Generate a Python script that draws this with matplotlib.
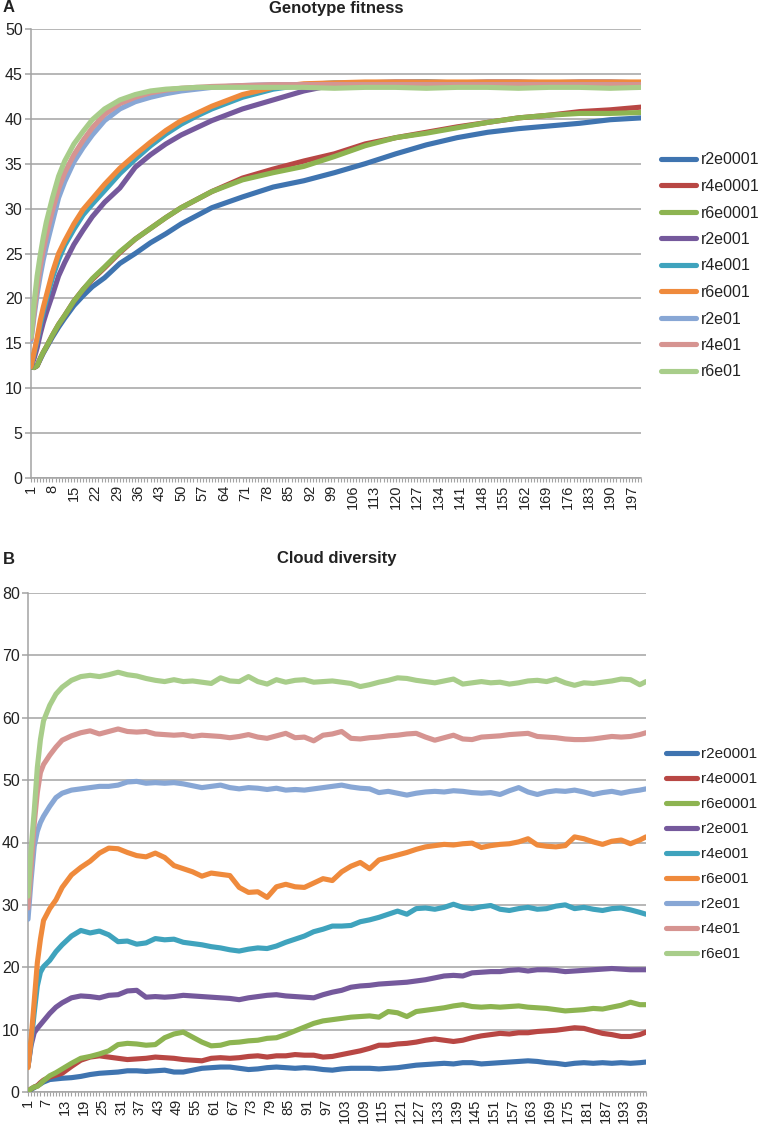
import matplotlib
matplotlib.use("Agg")
import matplotlib.pyplot as plt
from matplotlib.ticker import MultipleLocator, FixedLocator
from matplotlib.lines import Line2D

plt.rcParams['font.family'] = ['Liberation Sans', 'DejaVu Sans']

series_names = ["r2e0001", "r4e0001", "r6e0001", "r2e001", "r4e001",
                "r6e001", "r2e01", "r4e01", "r6e01"]
series_colors = ["#3F74B0", "#B84744", "#8DB451", "#75599C", "#3FA3BD",
                 "#EF8A3C", "#88A7D5", "#D69491", "#A8CD8A"]

# ---------------- Panel A: genotype fitness ----------------
gen_a = [1, 2, 3, 4, 5, 6, 8, 10, 12, 15, 18, 21, 25, 30, 35, 40, 45, 50, 55, 60,
         70, 80, 90, 100, 110, 120, 130, 140, 150, 160, 170, 180, 190, 200]

fit_r2e0001 = [12.4, 12.3, 12.5, 13.2, 13.9, 14.5, 15.7, 16.8, 17.8, 19.2, 20.3, 21.3, 22.3, 23.9, 25.0, 26.2, 27.2,
               28.3, 29.2, 30.1, 31.3, 32.4, 33.1, 34.0, 35.0, 36.1, 37.1, 37.9, 38.5, 38.9, 39.2, 39.5, 39.9, 40.1]
fit_r4e0001 = [12.4, 12.3, 12.5, 13.3, 14.0, 14.6, 15.9, 17.1, 18.1, 19.7, 21.0, 22.1, 23.4, 25.1, 26.6, 27.8, 29.0,
               30.1, 31.0, 31.9, 33.4, 34.4, 35.3, 36.1, 37.2, 37.9, 38.5, 39.1, 39.6, 40.1, 40.4, 40.8, 41.0, 41.3]
fit_r6e0001 = [12.4, 12.3, 12.5, 13.3, 14.0, 14.6, 15.9, 17.1, 18.1, 19.7, 21.0, 22.2, 23.5, 25.2, 26.6, 27.8, 29.0,
               30.1, 31.0, 31.9, 33.2, 34.0, 34.7, 35.8, 37.0, 37.9, 38.4, 39.0, 39.6, 40.1, 40.4, 40.6, 40.6, 40.7]
fit_r2e001 = [12.4, 13.3, 14.5, 16.0, 17.3, 18.4, 20.4, 22.5, 24.0, 26.0, 27.6, 29.1, 30.7, 32.3, 34.6, 36.0, 37.2,
              38.2, 39.0, 39.8, 41.1, 42.1, 43.1, 43.8, 44.0, 44.1, 44.1, 44.0, 44.1, 44.1, 44.0, 44.1, 44.1, 44.0]
fit_r4e001 = [12.4, 13.8, 15.3, 17.0, 18.5, 19.8, 22.3, 24.3, 25.9, 27.7, 29.3, 30.5, 32.0, 33.9, 35.5, 37.0, 38.3,
              39.4, 40.3, 41.1, 42.4, 43.3, 43.8, 44.0, 44.0, 44.0, 44.1, 44.0, 44.0, 44.0, 44.0, 44.0, 44.0, 44.0]
fit_r6e001 = [12.4, 14.0, 15.6, 17.5, 19.0, 20.3, 22.9, 25.0, 26.4, 28.3, 29.9, 31.1, 32.7, 34.5, 36.0, 37.4, 38.7,
              39.8, 40.6, 41.4, 42.7, 43.5, 43.9, 44.0, 44.1, 44.1, 44.1, 44.1, 44.1, 44.1, 44.1, 44.1, 44.1, 44.1]
fit_r2e01 = [15.3, 18.0, 20.5, 22.5, 24.3, 25.8, 28.5, 31.2, 33.0, 35.2, 36.8, 38.2, 39.8, 41.1, 41.9, 42.4, 42.8,
             43.1, 43.3, 43.5, 43.7, 43.8, 43.8, 43.8, 43.8, 43.8, 43.8, 43.8, 43.8, 43.8, 43.8, 43.8, 43.8, 43.8]
fit_r4e01 = [15.5, 18.5, 21.3, 23.5, 25.4, 27.0, 29.8, 32.2, 34.0, 36.0, 37.6, 39.0, 40.5, 41.7, 42.4, 42.9, 43.2,
             43.4, 43.5, 43.6, 43.7, 43.8, 43.8, 43.8, 43.8, 43.8, 43.8, 43.8, 43.8, 43.8, 43.8, 43.8, 43.8, 43.8]
fit_r6e01 = [15.7, 19.5, 22.5, 24.8, 26.8, 28.5, 31.2, 33.6, 35.3, 37.2, 38.6, 39.9, 41.1, 42.1, 42.7, 43.1, 43.3,
             43.4, 43.5, 43.5, 43.5, 43.5, 43.5, 43.4, 43.5, 43.5, 43.4, 43.5, 43.5, 43.4, 43.5, 43.5, 43.4, 43.5]

# ---------------- Panel B: cloud diversity ----------------
gen_b = [1, 2, 3, 4, 5, 6, 8, 10, 12, 15, 18, 21, 24, 27, 30, 33, 36, 39, 42, 45, 48, 51, 54, 57, 60, 63, 66,
         69, 72, 75, 78, 81, 84, 87, 90, 93, 96, 99, 102, 105, 108, 111, 114, 117, 120, 123, 126, 129, 132,
         135, 138, 141, 144, 147, 150, 153, 156, 159, 162, 165, 168, 171, 174, 177, 180, 183, 186, 189, 192,
         195, 198, 200]

div_r2e0001 = [0.1, 0.4, 0.7, 1.0, 1.3, 1.6, 2.0, 2.1, 2.2, 2.3, 2.5, 2.8, 3.0, 3.1, 3.2, 3.4, 3.4, 3.3, 3.4, 3.5,
               3.2, 3.2, 3.5, 3.8, 3.9, 4.0, 4.0, 3.8, 3.6, 3.7, 3.9, 4.0, 3.9, 3.8, 3.9, 3.8, 3.6, 3.5, 3.7,
               3.8, 3.8, 3.8, 3.7, 3.8, 3.9, 4.1, 4.3, 4.4, 4.5, 4.6, 4.5, 4.7, 4.7, 4.5, 4.6, 4.7, 4.8, 4.9,
               5.0, 4.9, 4.7, 4.6, 4.4, 4.6, 4.7, 4.6, 4.7, 4.6, 4.7, 4.6, 4.7, 4.8]
div_r4e0001 = [0.1, 0.5, 0.8, 1.0, 1.5, 1.9, 2.4, 2.7, 3.0, 4.1, 5.1, 5.6, 5.8, 5.6, 5.4, 5.2, 5.3, 5.4, 5.6, 5.5,
               5.4, 5.2, 5.1, 5.0, 5.4, 5.5, 5.4, 5.5, 5.7, 5.8, 5.6, 5.8, 5.8, 6.0, 5.9, 5.9, 5.6, 5.7, 6.0,
               6.3, 6.6, 7.0, 7.5, 7.5, 7.7, 7.8, 8.0, 8.3, 8.5, 8.3, 8.1, 8.3, 8.7, 9.0, 9.2, 9.4, 9.3, 9.5,
               9.5, 9.7, 9.8, 9.9, 10.1, 10.3, 10.2, 9.8, 9.4, 9.2, 8.9, 8.9, 9.2, 9.6]
div_r6e0001 = [0.1, 0.5, 0.8, 0.9, 1.3, 1.8, 2.6, 3.1, 3.7, 4.6, 5.4, 5.7, 6.1, 6.6, 7.6, 7.8, 7.7, 7.5, 7.6, 8.7,
               9.3, 9.6, 8.8, 8.0, 7.4, 7.5, 7.9, 8.0, 8.2, 8.3, 8.6, 8.7, 9.2, 9.8, 10.4, 11.0, 11.4, 11.6,
               11.8, 12.0, 12.1, 12.2, 12.0, 12.9, 12.7, 12.1, 12.9, 13.1, 13.3, 13.5, 13.8, 14.0, 13.7, 13.6,
               13.7, 13.6, 13.7, 13.8, 13.6, 13.5, 13.4, 13.2, 13.0, 13.1, 13.2, 13.4, 13.3, 13.6, 13.9, 14.4,
               14.0, 14.0]
div_r2e001 = [4.1, 7.5, 9.5, 10.2, 10.8, 11.4, 12.6, 13.6, 14.3, 15.1, 15.4, 15.3, 15.1, 15.5, 15.6, 16.2, 16.3,
              15.2, 15.3, 15.2, 15.3, 15.5, 15.4, 15.3, 15.2, 15.1, 15.0, 14.8, 15.1, 15.3, 15.5, 15.6, 15.4,
              15.3, 15.2, 15.1, 15.6, 16.0, 16.3, 16.8, 17.0, 17.1, 17.3, 17.4, 17.5, 17.6, 17.8, 18.0, 18.3,
              18.6, 18.7, 18.6, 19.1, 19.2, 19.3, 19.3, 19.5, 19.6, 19.4, 19.6, 19.6, 19.5, 19.3, 19.4, 19.5,
              19.6, 19.7, 19.8, 19.7, 19.6, 19.6, 19.6]
div_r4e001 = [4.1, 8.0, 12.7, 17.0, 19.2, 20.1, 21.1, 22.5, 23.6, 25.0, 25.9, 25.5, 25.8, 25.2, 24.1, 24.2, 23.7,
              23.9, 24.6, 24.4, 24.5, 24.0, 23.8, 23.6, 23.3, 23.1, 22.8, 22.6, 22.9, 23.1, 23.0, 23.4, 24.0,
              24.5, 25.0, 25.7, 26.1, 26.6, 26.6, 26.7, 27.3, 27.6, 28.0, 28.5, 29.0, 28.5, 29.4, 29.5, 29.3,
              29.6, 30.1, 29.6, 29.4, 29.7, 29.9, 29.3, 29.1, 29.4, 29.6, 29.3, 29.4, 29.8, 30.0, 29.4, 29.6,
              29.3, 29.1, 29.4, 29.5, 29.2, 28.8, 28.5]
div_r6e001 = [3.9, 8.5, 14.5, 20.7, 24.5, 27.5, 29.4, 30.8, 32.8, 34.8, 36.0, 37.0, 38.3, 39.1, 39.0, 38.4, 37.9,
              37.7, 38.3, 37.6, 36.3, 35.8, 35.3, 34.6, 35.1, 34.9, 34.7, 32.8, 32.0, 32.1, 31.2, 32.9, 33.3,
              32.9, 32.8, 33.5, 34.2, 33.9, 35.3, 36.2, 36.8, 35.8, 37.2, 37.6, 38.0, 38.4, 38.9, 39.3, 39.5,
              39.7, 39.6, 39.8, 39.9, 39.2, 39.5, 39.7, 39.8, 40.1, 40.6, 39.6, 39.4, 39.3, 39.5, 40.9, 40.6,
              40.1, 39.7, 40.2, 40.4, 39.8, 40.4, 40.9]
div_r2e01 = [27.7, 34.0, 39.4, 41.8, 43.2, 44.2, 45.8, 47.2, 47.9, 48.4, 48.6, 48.8, 49.0, 49.0, 49.2, 49.7, 49.8,
             49.5, 49.6, 49.5, 49.6, 49.4, 49.1, 48.8, 49.0, 49.2, 48.8, 48.6, 48.8, 48.7, 48.5, 48.7, 48.4,
             48.5, 48.4, 48.6, 48.8, 49.0, 49.2, 48.9, 48.7, 48.6, 48.0, 48.2, 47.9, 47.6, 47.9, 48.1, 48.2,
             48.1, 48.3, 48.2, 48.0, 47.9, 48.0, 47.7, 48.3, 48.8, 48.1, 47.7, 48.1, 48.3, 48.2, 48.4, 48.1,
             47.7, 48.0, 48.2, 47.9, 48.2, 48.4, 48.6]
div_r4e01 = [29.5, 36.0, 43.0, 48.0, 51.2, 52.5, 54.0, 55.3, 56.4, 57.1, 57.6, 57.9, 57.4, 57.8, 58.2, 57.8, 57.7,
             57.8, 57.4, 57.3, 57.2, 57.3, 57.0, 57.2, 57.1, 57.0, 56.8, 57.0, 57.3, 56.9, 56.7, 57.1, 57.5,
             56.8, 56.9, 56.3, 57.2, 57.4, 57.8, 56.7, 56.6, 56.8, 56.9, 57.1, 57.2, 57.4, 57.5, 56.9, 56.4,
             56.8, 57.2, 56.6, 56.5, 56.9, 57.0, 57.1, 57.3, 57.4, 57.5, 57.0, 56.9, 56.8, 56.6, 56.5, 56.5,
             56.6, 56.8, 57.0, 56.9, 57.0, 57.3, 57.6]
div_r6e01 = [31.4, 39.0, 45.0, 52.0, 56.5, 59.5, 62.0, 63.8, 64.9, 66.0, 66.6, 66.8, 66.6, 66.9, 67.3, 66.9, 66.7,
             66.3, 66.0, 65.8, 66.1, 65.8, 65.9, 65.7, 65.5, 66.4, 65.9, 65.8, 66.6, 65.8, 65.4, 66.1, 65.7,
             66.0, 66.1, 65.7, 65.8, 65.9, 65.7, 65.5, 65.0, 65.3, 65.7, 66.0, 66.4, 66.3, 66.0, 65.8, 65.6,
             65.9, 66.2, 65.4, 65.6, 65.8, 65.6, 65.7, 65.4, 65.6, 65.9, 66.0, 65.8, 66.2, 65.6, 65.2, 65.6,
             65.5, 65.7, 65.9, 66.2, 66.1, 65.3, 65.8]

fit_values = [fit_r2e0001, fit_r4e0001, fit_r6e0001, fit_r2e001, fit_r4e001,
              fit_r6e001, fit_r2e01, fit_r4e01, fit_r6e01]
div_values = [div_r2e0001, div_r4e0001, div_r6e0001, div_r2e001, div_r4e001,
              div_r6e001, div_r2e01, div_r4e01, div_r6e01]

xticks_a = list(range(1, 201, 7))
xticks_b = list(range(1, 201, 6))

W, H = 761, 1127
fig = plt.figure(figsize=(W / 100, H / 100), dpi=100)

GRID = "#A3A3A3"
TXT = "#222222"
LW = 3.7


def style_axes(ax, ymax, ystep, xticks):
    ax.set_xlim(1, 200)
    ax.set_ylim(0, ymax)
    ax.yaxis.set_major_locator(MultipleLocator(ystep))
    ax.xaxis.set_major_locator(FixedLocator(xticks))
    ax.xaxis.set_minor_locator(FixedLocator(list(range(1, 201))))
    ax.grid(axis='y', color=GRID, linewidth=1.1, zorder=0)
    ax.set_axisbelow(True)
    for s in ['top', 'right']:
        ax.spines[s].set_visible(False)
    for s in ['left', 'bottom']:
        ax.spines[s].set_color(GRID)
        ax.spines[s].set_linewidth(1.1)
    ax.tick_params(axis='y', direction='out', length=4, width=1.1, color=GRID,
                   labelsize=11.5, labelcolor=TXT, pad=2)
    ax.tick_params(axis='x', which='both', direction='out', length=3, width=0.8,
                   color=GRID, labelsize=10.5, labelcolor=TXT, pad=2)
    ax.set_xticklabels([str(t) for t in xticks], rotation=90)


def add_legend(ax, x_px, y_center_px, spacing, fs, hl):
    handles = [Line2D([0], [0], color=c, lw=LW, solid_capstyle='round')
               for c in series_colors]
    leg = ax.legend(handles, series_names, loc='center left',
                    bbox_to_anchor=(x_px / W, 1 - y_center_px / H),
                    bbox_transform=fig.transFigure, frameon=False,
                    fontsize=fs, handlelength=hl, handletextpad=0.3,
                    labelspacing=spacing, borderpad=0, borderaxespad=0)
    for t in leg.get_texts():
        t.set_color(TXT)


# Panel A
axA = fig.add_axes([31 / W, 1 - 478 / H, 610 / W, 449 / H])
for vals, col in zip(fit_values, series_colors):
    axA.plot(gen_a, vals, color=col, lw=LW, solid_capstyle='round',
             solid_joinstyle='round', zorder=3)
style_axes(axA, 50, 5, xticks_a)
add_legend(axA, 661, 266, 0.72, 11.5, 2.2)
fig.text(3 / W, 1 - 8 / H, "A", fontsize=12, fontweight='bold', color=TXT,
         ha='left', va='center')
fig.text(336 / W, 1 - 8 / H, "Genotype fitness", fontsize=12, fontweight='bold',
         color=TXT, ha='center', va='center')

# Panel B
axB = fig.add_axes([28 / W, 1 - 1092 / H, 618 / W, 499 / H])
for vals, col in zip(div_values, series_colors):
    axB.plot(gen_b, vals, color=col, lw=LW, solid_capstyle='round',
             solid_joinstyle='round', zorder=3)
style_axes(axB, 80, 10, xticks_b)
add_legend(axB, 666, 854, 0.72, 11.0, 2.0)
fig.text(3 / W, 1 - 559 / H, "B", fontsize=12, fontweight='bold', color=TXT,
         ha='left', va='center')
fig.text(337 / W, 1 - 559 / H, "Cloud diversity", fontsize=12, fontweight='bold',
         color=TXT, ha='center', va='center')

fig.savefig("out.png", dpi=100, facecolor='white')
